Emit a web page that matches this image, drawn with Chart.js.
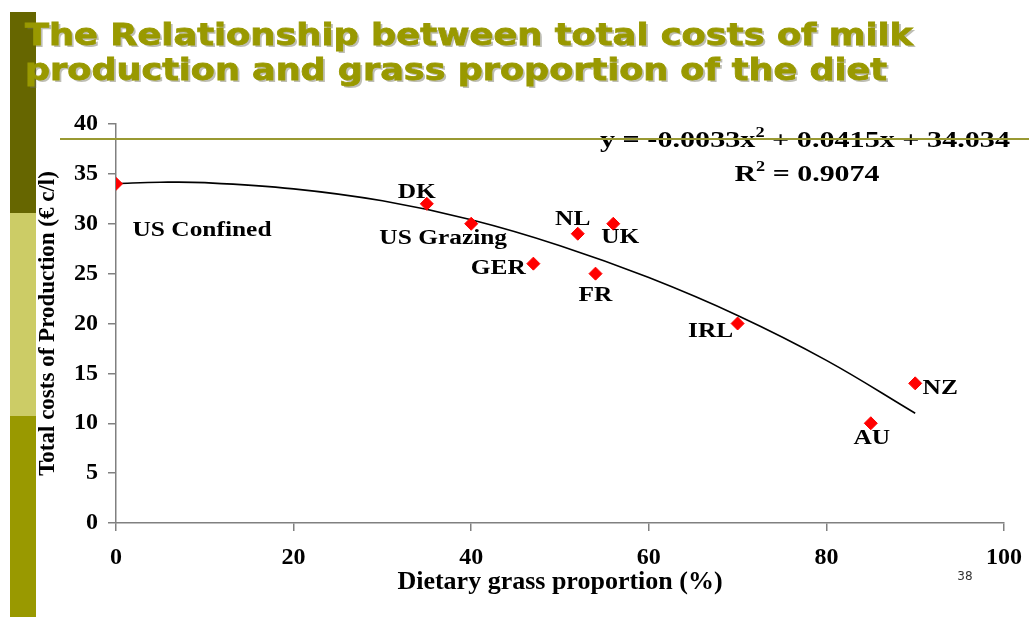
<!DOCTYPE html>
<html><head><meta charset="utf-8">
<script src="https://cdn.jsdelivr.net/npm/chart.js@4/dist/chart.umd.min.js"></script>
<style>html,body{margin:0;padding:0;background:#fff;}#wrap{width:1029px;height:617px;position:relative;}</style>
</head><body><div id="wrap"><canvas id="c" width="1029" height="617"></canvas></div>
<script>
const titleLines = ['The Relationship between total costs of milk', 'production and grass proportion of the diet'];
const countries = ['US Confined','DK','US Grazing','GER','NL','UK','FR','IRL','AU','NZ'];
const grassPct  = [0, 35, 40, 47, 52, 56, 54, 70, 85, 90];
const costs     = [34, 32, 30, 26, 29, 30, 25, 20, 10, 14];
const trendX = [0, 5, 10, 20, 30, 40, 50, 60, 70, 80, 90];
const trendY = [34.03, 34.16, 34.12, 33.5, 32.3, 30.4, 27.8, 24.6, 20.8, 16.3, 11.0];
const xTicks = [0, 20, 40, 60, 80, 100];
const yTicks = [0, 5, 10, 15, 20, 25, 30, 35, 40];
const xTitle = 'Dietary grass proportion (%)';
const yTitle = 'Total costs of Production (\u20AC c/l)';
const eqLine1 = [['y = -0.0033x',0],['2',1],[' + 0.0415x + 34.034',0]];
const eqLine2 = [['R',0],['2',1],[' = 0.9074',0]];
const slideNum = '38';

// label offsets (pixels from the point to label centre)
const labelOffsets = [[86,47],[-10,-11],[-28,15],[-35,5],[-5,-14],[7,14],[0,22],[-27,8],[1,16],[25,5]];

const serif = '"Liberation Serif","Times New Roman",serif';

function drawRich(ctx, parts, cx, baseY, size, targetW){
  ctx.save();
  const mainF = 'bold '+size+'px '+serif;
  const supF = 'bold '+Math.round(size*0.62)+'px '+serif;
  let w = 0;
  parts.forEach(p=>{ ctx.font = p[1]?supF:mainF; w += ctx.measureText(p[0]).width; });
  const sx = targetW ? targetW/w : 1;
  ctx.translate(cx - w*sx/2, baseY);
  ctx.scale(sx,1);
  let x = 0;
  ctx.fillStyle = '#000';
  ctx.textBaseline = 'alphabetic';
  ctx.textAlign = 'left';
  parts.forEach(p=>{
    ctx.font = p[1]?supF:mainF;
    ctx.fillText(p[0], x, p[1]? -size*0.42 : 0);
    x += ctx.measureText(p[0]).width;
  });
  ctx.restore();
}

const decoPlugin = {
  id:'deco',
  beforeDraw(chart){
    const ctx = chart.ctx;
    ctx.save();
    ctx.fillStyle='#fff'; ctx.fillRect(0,0,chart.width,chart.height);
    // left bar
    ctx.fillStyle='#666600'; ctx.fillRect(10,12,26,201);
    ctx.fillStyle='#CCCC66'; ctx.fillRect(10,213,26,203);
    ctx.fillStyle='#999900'; ctx.fillRect(10,416,26,201);
    // title
    ctx.font = 'bold 31px "DejaVu Sans",Verdana,sans-serif';
    ctx.textBaseline='alphabetic'; ctx.textAlign='left';
    const targets=[888,862];
    const bases=[45,80];
    titleLines.forEach((t,i)=>{
      const w = ctx.measureText(t).width;
      ctx.save();
      ctx.translate(25,bases[i]);
      ctx.scale(targets[i]/w,1);
      ctx.fillStyle='rgba(110,110,90,0.45)';
      ctx.fillText(t,2,2);
      ctx.fillStyle='#999900';
      ctx.strokeStyle='#999900'; ctx.lineWidth=0.8;
      ctx.fillText(t,0,0);
      ctx.strokeText(t,0,0);
      ctx.restore();
    });
    ctx.restore();
  },
  afterDatasetsDraw(chart){
    const ctx = chart.ctx;
    const xs = chart.scales.x, ys = chart.scales.y;
    ctx.save();
    // point labels
    countries.forEach((name,i)=>{
      const px = xs.getPixelForValue(grassPct[i]) + labelOffsets[i][0];
      const py = ys.getPixelForValue(costs[i]) + labelOffsets[i][1];
      ctx.save();
      ctx.translate(px,py);
      ctx.scale(1.27,1);
      ctx.font='bold 20px '+serif;
      ctx.fillStyle='#000';
      ctx.textAlign='center'; ctx.textBaseline='middle';
      ctx.fillText(name,0,0);
      ctx.restore();
    });
    // equation
    drawRich(ctx, eqLine1, 805, 147, 23, 410);
    drawRich(ctx, eqLine2, 807, 181, 23, 145);
    // slide line
    ctx.strokeStyle='#999933'; ctx.lineWidth=2;
    ctx.beginPath(); ctx.moveTo(60,139); ctx.lineTo(1029,139); ctx.stroke();
    // slide number
    ctx.font='12px "DejaVu Sans",sans-serif'; ctx.fillStyle='#333';
    ctx.textAlign='center'; ctx.textBaseline='middle';
    ctx.fillText(slideNum,965,577);
    ctx.restore();
  }
};

new Chart(document.getElementById('c'), {
  type:'scatter',
  data:{
    datasets:[
      {
        label:'Trend',
        type:'line',
        data: trendX.map((x,i)=>({x:x,y:trendY[i]})),
        borderColor:'#000', borderWidth:1.6, pointRadius:0, fill:false,
        tension:0.4, order:2
      },
      {
        label:'Countries',
        data: grassPct.map((x,i)=>({x:x,y:costs[i]})),
        pointStyle:'rectRot', pointRadius:6.5, pointHoverRadius:6.5,
        backgroundColor:'#FF0000', borderColor:'#FF0000', borderWidth:1, order:1
      }
    ]
  },
  options:{
    responsive:false, animation:false,
    layout:{padding:{left:30, top:124, right:25, bottom:0}},
    plugins:{legend:{display:false}, tooltip:{enabled:false}},
    scales:{
      x:{
        type:'linear', min:0, max:100,
        afterBuildTicks(s){ s.ticks = xTicks.map(v=>({value:v})); },
        afterFit(s){ s.height = 94; s.paddingRight = 0; s.paddingLeft = 0; },
        grid:{drawOnChartArea:false, drawTicks:true, tickLength:8, color:'#808080', lineWidth:1.5},
        border:{color:'#808080', width:1.5},
        ticks:{font:{family:serif, weight:'bold', size:24}, color:'#000', padding:12, maxRotation:0},
        title:{display:true, text:xTitle, font:{family:serif, weight:'bold', size:26}, color:'#000', padding:{top:0,bottom:19}}
      },
      y:{
        type:'linear', min:0, max:40,
        afterBuildTicks(s){ s.ticks = yTicks.map(v=>({value:v})); },
        afterFit(s){ s.width = 86; },
        grid:{drawOnChartArea:false, drawTicks:true, tickLength:8, color:'#808080', lineWidth:1.5},
        border:{color:'#808080', width:1.5},
        ticks:{font:{family:serif, weight:'bold', size:24}, color:'#000', padding:10},
        title:{display:true, text:yTitle, font:{family:serif, weight:'bold', size:23}, color:'#000', padding:{top:4,bottom:0}}
      }
    }
  },
  plugins:[decoPlugin]
});
</script>
</body></html>
